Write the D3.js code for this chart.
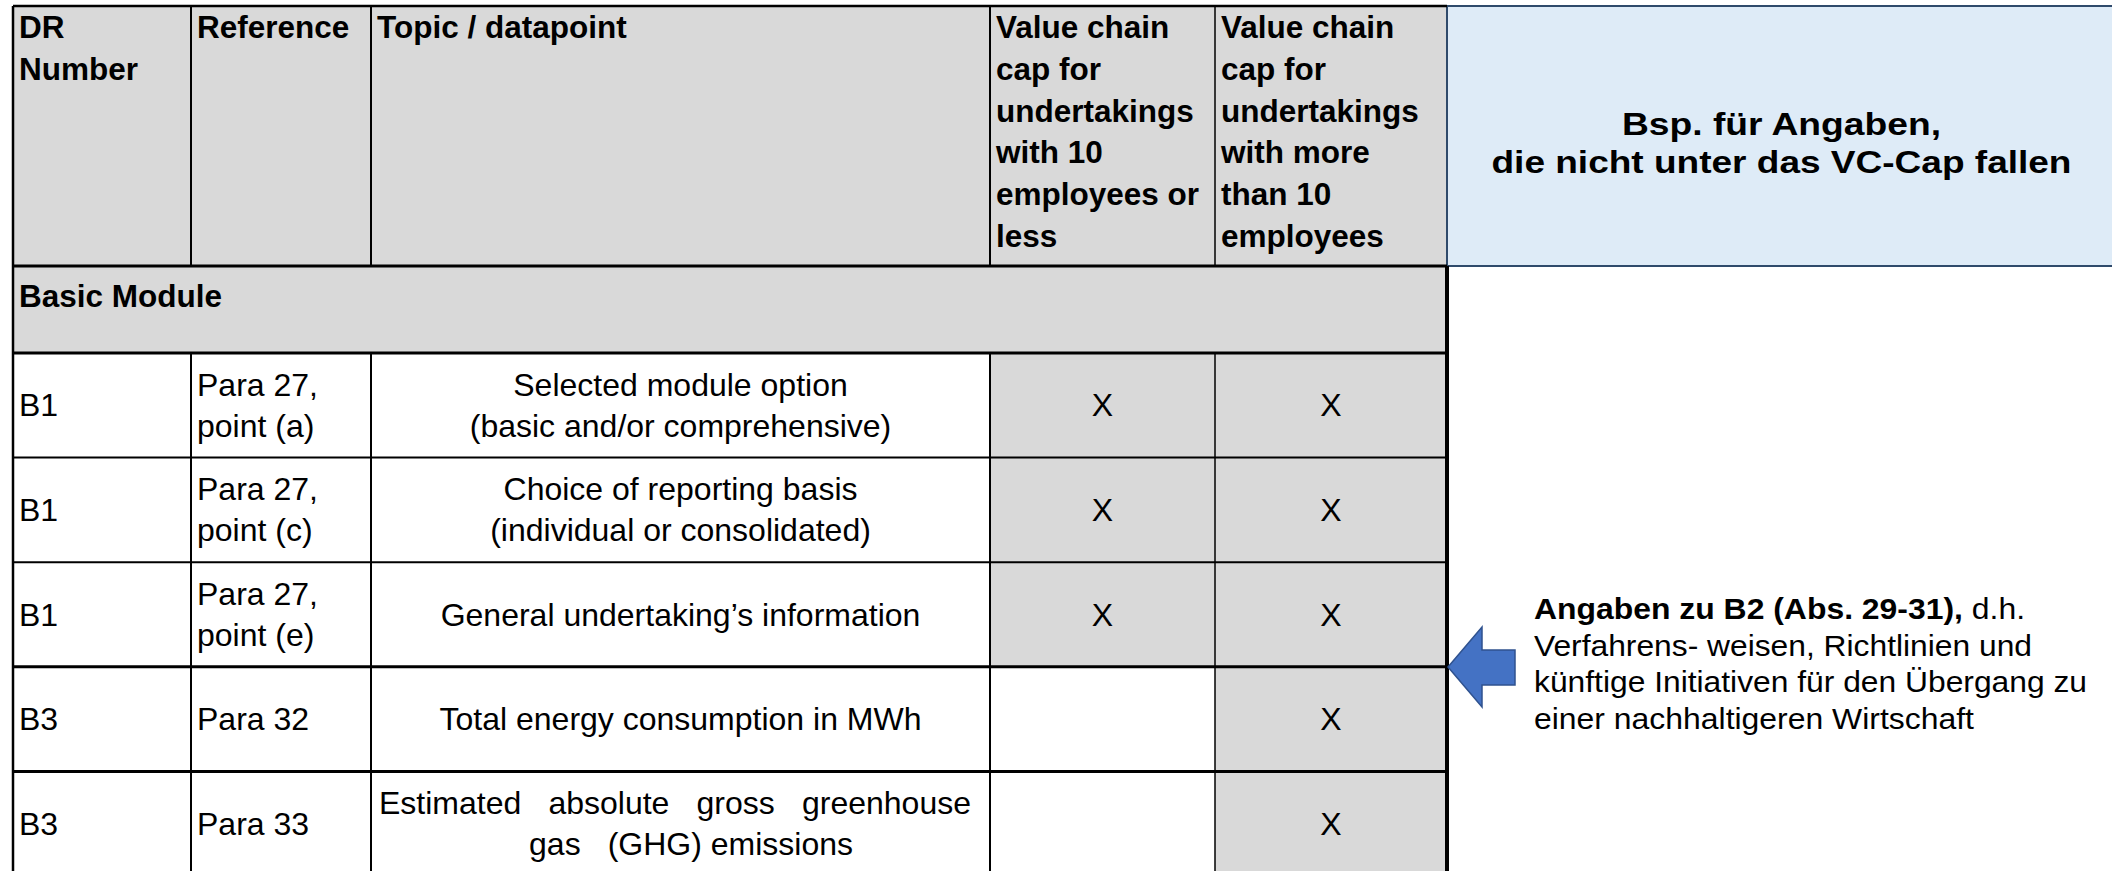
<!DOCTYPE html>
<html>
<head>
<meta charset="utf-8">
<script src="https://cdn.jsdelivr.net/npm/d3@7"></script>
<style>
  html, body { margin: 0; padding: 0; background: #fff; }
  svg { display: block; font-family: "Liberation Sans", Arial, sans-serif; }
</style>
</head>
<body>
<div id="tableWrapper"></div>
<script>
// table content
var headerLabels = [
    ["DR", "Number"],
    ["Reference"],
    ["Topic / datapoint"],
    ["Value chain", "cap for", "undertakings", "with 10", "employees or", "less"],
    ["Value chain", "cap for", "undertakings", "with more", "than 10", "employees"]
];
var sectionTitle = "Basic Module";
var drNumbers = ["B1", "B1", "B1", "B3", "B3"];
var references = [
    ["Para 27,", "point (a)"],
    ["Para 27,", "point (c)"],
    ["Para 27,", "point (e)"],
    ["Para 32"],
    ["Para 33"]
];
var topics = [
    ["Selected module option", "(basic and/or comprehensive)"],
    ["Choice of reporting basis", "(individual or consolidated)"],
    ["General undertaking’s information"],
    ["Total energy consumption in MWh"],
    ["Estimated absolute gross greenhouse", "gas", "(GHG) emissions"]
];
var capSmall = [true, true, true, false, false];
var capLarge = [true, true, true, true, true];
var boxTitle = ["Bsp. für Angaben,", "die nicht unter das VC-Cap fallen"];
var noteBold = "Angaben zu B2 (Abs. 29-31),";
var noteLines = [" d.h.", "Verfahrens- weisen, Richtlinien und", "künftige Initiativen für den Übergang zu", "einer nachhaltigeren Wirtschaft"];

// layout
var width = 2112, height = 871;
var colEdges = [13, 191, 371, 990, 1215, 1447];
var headerTop = 6, headerBottom = 266, moduleBottom = 353, bodyBottom = 876;
var fontSize = 32, headSize = 31.5, lineGap = 41;
var gray = "#d9d9d9";

var svg = d3.select("#tableWrapper").append("svg")
    .attr("width", width)
    .attr("height", height);

var rowScale = d3.scaleBand()
    .domain(d3.range(drNumbers.length))
    .range([moduleBottom, bodyBottom]);

function colCenter(c) { return (colEdges[c] + colEdges[c + 1]) / 2; }

// header and section fills
svg.append("rect")
    .attr("x", colEdges[0]).attr("y", headerTop)
    .attr("width", colEdges[5] - colEdges[0]).attr("height", moduleBottom - headerTop)
    .attr("fill", gray);

// value chain cap cells
var capCols = [capSmall, capLarge];
capCols.forEach(function(col, k) {
    svg.selectAll(".cap" + k)
        .data(col)
        .enter()
        .append("rect")
        .attr("x", colEdges[3 + k])
        .attr("y", function(d, i) { return rowScale(i); })
        .attr("width", colEdges[4 + k] - colEdges[3 + k])
        .attr("height", rowScale.bandwidth())
        .attr("fill", function(d) { return d ? gray : "#fff"; });
    svg.selectAll(".capx" + k)
        .data(col.map(function(d, i) { return {on: d, i: i}; }).filter(function(d) { return d.on; }))
        .enter()
        .append("text")
        .attr("x", colCenter(3 + k))
        .attr("y", function(d) { return rowScale(d.i) + rowScale.bandwidth() / 2 + 11; })
        .attr("text-anchor", "middle")
        .style("font-size", fontSize + "px")
        .text("X");
});

// blue box
svg.append("rect")
    .attr("x", colEdges[5]).attr("y", headerTop)
    .attr("width", width - colEdges[5] + 5).attr("height", headerBottom - headerTop)
    .attr("fill", "#deebf7")
    .attr("stroke", "#2f4a6b")
    .attr("stroke-width", 2);

// grid lines
function hline(y, x1, x2, w) {
    svg.append("line").attr("x1", x1).attr("x2", x2).attr("y1", y).attr("y2", y)
        .attr("stroke", "#000").attr("stroke-width", w);
}
function vline(x, y1, y2, w) {
    svg.append("line").attr("x1", x).attr("x2", x).attr("y1", y1).attr("y2", y2)
        .attr("stroke", "#000").attr("stroke-width", w);
}
hline(headerTop, colEdges[0], colEdges[5], 2.5);
hline(headerBottom, colEdges[0], colEdges[5], 3);
hline(moduleBottom, colEdges[0], colEdges[5], 3);
var rowLineWidths = [2, 2, 3, 3];
d3.range(1, drNumbers.length).forEach(function(i) {
    hline(rowScale(i), colEdges[0], colEdges[5], rowLineWidths[i - 1]);
});
vline(colEdges[0], headerTop, height, 2.5);
[1, 2, 3, 4].forEach(function(c) {
    var w = c === 4 ? 1.5 : 2;
    vline(colEdges[c], headerTop, headerBottom, w);
    vline(colEdges[c], moduleBottom, height, w);
});
vline(colEdges[5], headerBottom, height, 4);

// header text
headerLabels.forEach(function(lines, c) {
    var t = svg.append("text")
        .style("font-size", headSize + "px")
        .style("font-weight", "bold");
    lines.forEach(function(l, j) {
        t.append("tspan").attr("x", colEdges[c] + 6).attr("y", 38 + j * 41.8).text(l);
    });
});
svg.append("text")
    .attr("x", colEdges[0] + 6).attr("y", 307)
    .style("font-size", headSize + "px")
    .style("font-weight", "bold")
    .text(sectionTitle);

// body text
function multiLine(lines, x, cy, anchor) {
    var t = svg.append("text")
        .attr("text-anchor", anchor)
        .style("font-size", fontSize + "px");
    var top = cy - (lines.length - 1) * lineGap / 2 + 11;
    lines.forEach(function(l, j) {
        t.append("tspan").attr("x", x).attr("y", top + j * lineGap).text(l);
    });
    return t;
}
// stretch a line to a given width by widening the word gaps
function justify(str, x1, x2, y) {
    var t = svg.append("text").attr("x", x1).attr("y", y)
        .style("font-size", fontSize + "px").text(str);
    var natural = t.node().getComputedTextLength();
    var gaps = (str.match(/ /g) || []).length;
    if (gaps) t.style("word-spacing", ((x2 - x1 - natural) / gaps) + "px");
    return t;
}
drNumbers.forEach(function(d, i) {
    var cy = rowScale(i) + rowScale.bandwidth() / 2;
    multiLine([d], colEdges[0] + 6, cy, "start");
    multiLine(references[i], colEdges[1] + 6, cy, "start");
    if (topics[i].length === 3) {
        // distributed paragraph: full first line, wide gap after first word of last line
        var top = cy - lineGap / 2 + 11;
        justify(topics[i][0], 379, 971, top);
        var tail = svg.append("text").attr("x", 853).attr("y", top + lineGap)
            .attr("text-anchor", "end")
            .style("font-size", fontSize + "px").text(topics[i][2]);
        var tailW = tail.node().getComputedTextLength();
        svg.append("text").attr("x", 853 - tailW - 27).attr("y", top + lineGap)
            .attr("text-anchor", "end")
            .style("font-size", fontSize + "px").text(topics[i][1]);
    } else {
        multiLine(topics[i], colCenter(2), cy, "middle");
    }
});

// blue box title
var boxCx = (colEdges[5] + width) / 2 + 2;
var boxLens = [319, 580];
boxTitle.forEach(function(l, j) {
    svg.append("text")
        .attr("x", boxCx - boxLens[j] / 2)
        .attr("y", 135 + j * 38)
        .attr("textLength", boxLens[j])
        .attr("lengthAdjust", "spacingAndGlyphs")
        .style("font-size", "31px")
        .style("font-weight", "bold")
        .text(l);
});

// arrow
var arrowPts = [[1448, 667], [1482, 627], [1482, 650], [1515, 650], [1515, 685], [1482, 685], [1482, 707]];
svg.append("path")
    .attr("d", d3.line()(arrowPts) + "Z")
    .attr("fill", "#4472c4")
    .attr("stroke", "#2f528f")
    .attr("stroke-width", 1.5);

// note text
var noteX = 1534;
var noteEnds = [2025, 2032, 2087, 1974];
noteLines.forEach(function(l, j) {
    var t = svg.append("text")
        .attr("x", noteX)
        .attr("y", 619 + j * 36.7)
        .attr("textLength", noteEnds[j] - noteX)
        .attr("lengthAdjust", "spacingAndGlyphs")
        .style("font-size", "29.5px");
    if (j === 0) {
        t.append("tspan").style("font-weight", "bold").text(noteBold);
    }
    t.append("tspan").text(l);
});
</script>
</body>
</html>
